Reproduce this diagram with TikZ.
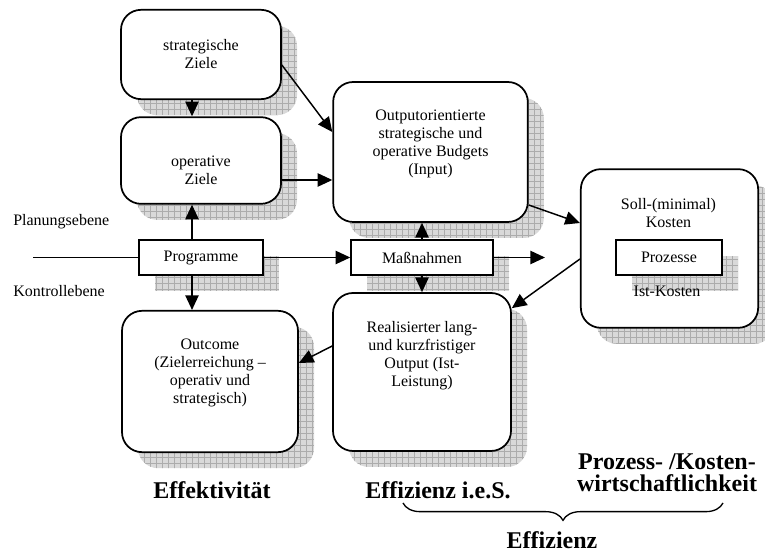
\documentclass[tikz,border=0pt]{standalone}
\usepackage{fontspec}
\setmainfont{Liberation Serif}
\usetikzlibrary{arrows.meta, patterns.meta, decorations.pathreplacing}

\begin{document}
\begin{tikzpicture}[
		x=0.75pt, y=0.75pt,
		>={Triangle[length=11pt, width=10pt]},
		shadowed/.style={
			preaction={draw=none, fill=gray!30, transform canvas={shift={(12pt,-12pt)}}},
			preaction={draw=none, pattern={Hatch[angle=0, distance=4.5pt, line width=0.4pt]}, pattern color=gray!65, transform canvas={shift={(12pt,-12pt)}}}},
		box/.style={draw, line width=1.3pt, rounded corners=15pt, fill=white, shadowed, inner sep=2pt, align=center, font=\fontsize{12}{13.5}\selectfont},
		bar/.style={draw, line width=1.1pt, fill=white, shadowed, minimum height=26pt, inner sep=2pt, font=\fontsize{12}{13.5}\selectfont},
		txt/.style={align=center, inner sep=0pt, font=\fontsize{12}{13.5}\selectfont},
		side/.style={anchor=west, inner sep=0pt, font=\fontsize{12}{13.5}\selectfont},
		result/.style={align=center, inner sep=0pt, font=\fontsize{18}{16.5}\selectfont\bfseries},
		link/.style={->, line width=1.1pt},
	]
	\useasboundingbox (0,0) rectangle (765,553);

	% Planungsebene
	\node[box, minimum width=120pt, minimum height=67pt] (strat) at (201, 498.5) {strategische\\ Ziele};
	\node[box, minimum width=120pt, minimum height=65pt] (oper) at (201, 392.5) {};
	\node[txt] (oper_txt) at (201, 383) {operative\\ Ziele};
	\node[box, minimum width=146pt, minimum height=105pt] (budget) at (430.5, 401) {};
	\node[txt] (budget_txt) at (430.5, 409) {Outputorientierte\\ strategische und\\ operative Budgets\\ (Input)};

	% Mitte
	\node[bar, minimum width=93pt] (prog) at (201, 295.5) {Programme};
	\node[bar, minimum width=106.5pt] (mass) at (422, 295.5) {Maßnahmen};
	\node[box, minimum width=133pt, minimum height=119pt] (soll) at (669.5, 304.5) {};
	\node[txt] (soll_txt) at (668.5, 339.5) {Soll-(minimal)\\ Kosten};
	\node[bar, minimum width=79.5pt] (proz) at (669, 295.5) {Prozesse};
	\node[txt] (istk) at (667, 262) {Ist-Kosten};
	\node[side] (plan) at (13, 331) {Planungsebene};
	\node[side] (kontr) at (13, 262) {Kontrollebene};
	\coordinate (ein) at (33, 295.5);
	\coordinate (massout) at (545, 295.5);

	% Kontrollebene
	\node[box, minimum width=132pt, minimum height=106pt] (outc) at (210, 171.5) {};
	\node[txt] (outc_txt) at (210, 180) {Outcome\\ (Zielerreichung –\\ operativ und\\ strategisch)};
	\node[box, minimum width=133.5pt, minimum height=118.5pt] (real) at (422, 181) {};
	\node[txt] (real_txt) at (422, 197) {Realisierter lang-\\ und kurzfristiger\\ Output (Ist-\\ Leistung)};

	% Ergebnisse
	\node[result] (effekt) at (212, 63) {Effektivität};
	\node[result] (effies) at (438, 63) {Effizienz i.e.S.};
	\node[result] (prokost) at (667, 80) {Prozess- /Kosten-\\ wirtschaftlichkeit};
	\node[result] (effiz) at (552, 13) {Effizienz};
	\coordinate (brace_l) at (403, 50);
	\coordinate (brace_r) at (723, 50);

	\draw[link] ([shift={(-9,0)}]strat.south) -- ([shift={(-9,0)}]oper.north);
	\draw[link] ([shift={(0,-10.5)}]strat.east) -- ([shift={(0,20)}]budget.west);
	\draw[link] ([shift={(0,-19.5)}]oper.east) -- ([shift={(0,-19.5)}]oper.east -| budget.west);
	\draw[link] ([shift={(-9,0)}]prog.north) -- ([shift={(-9,0)}]oper.south);
	\draw[link] ([shift={(-9,0)}]prog.south) -- ([shift={(-9,0)}]prog.south |- outc.north);
	\draw[line width=1.1pt] (ein) -- (prog);
	\draw[link] (prog) -- (mass);
	\draw[link] (mass.north) -- (mass.north |- budget.south);
	\draw[link] (mass.south) -- (mass.south |- real.north);
	\draw[link] (mass) -- (massout);
	\draw[link] ([shift={(0,-53)}]budget.east) -- ([shift={(0,25.5)}]soll.west);
	\draw[link] ([shift={(0,-10.5)}]soll.west) -- ([shift={(0,-16)}]real.north east);
	\draw[link] ([shift={(0,26)}]real.west) -- ([shift={(0,18.5)}]outc.east);
	\draw[line width=1pt, decorate, decoration={brace, mirror, amplitude=13pt}] (brace_l) -- (brace_r);
\end{tikzpicture}
\end{document}
